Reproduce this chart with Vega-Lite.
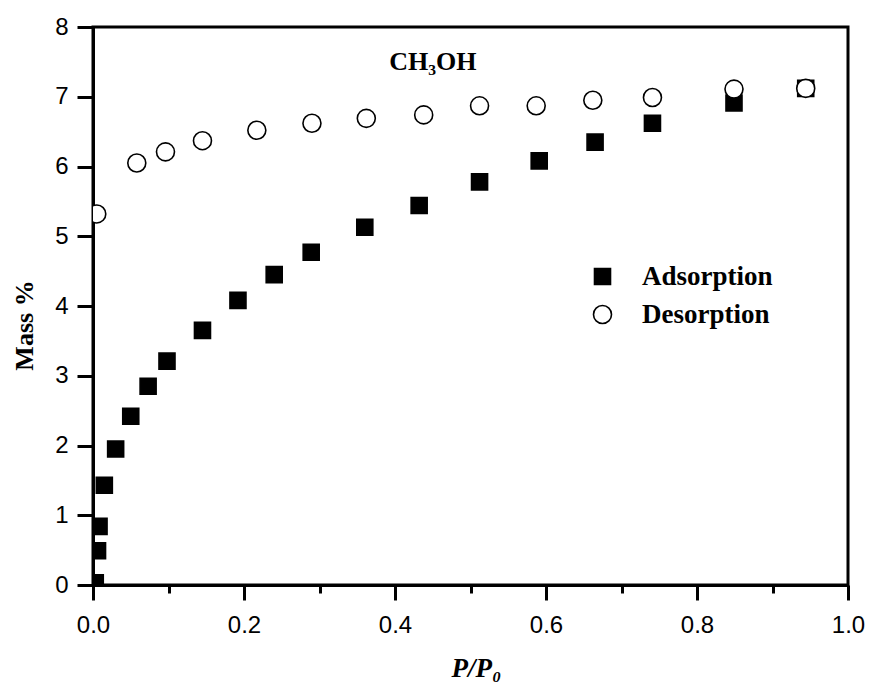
{
  "$schema": "https://vega.github.io/schema/vega-lite/v6.json",
  "autosize": {"type": "none"},
  "padding": {"left": 93, "top": 27, "right": 25, "bottom": 105},
  "width": 755,
  "height": 558,
  "background": "white",
  "config": {
    "view": {"stroke": "black", "strokeWidth": 3},
    "axis": {"grid": false, "domainColor": "black", "domainWidth": 3, "tickColor": "black", "tickWidth": 3, "labelColor": "black", "labelFont": "Liberation Sans", "labelFontSize": 24, "titleColor": "black", "zindex": 1}
  },
  "datasets": {
    "points": [
      {"series": "Adsorption", "p": 0.003, "mass": 0.03},
      {"series": "Adsorption", "p": 0.006, "mass": 0.49},
      {"series": "Adsorption", "p": 0.008, "mass": 0.84},
      {"series": "Adsorption", "p": 0.015, "mass": 1.43},
      {"series": "Adsorption", "p": 0.030, "mass": 1.95},
      {"series": "Adsorption", "p": 0.050, "mass": 2.42},
      {"series": "Adsorption", "p": 0.073, "mass": 2.85},
      {"series": "Adsorption", "p": 0.098, "mass": 3.21},
      {"series": "Adsorption", "p": 0.145, "mass": 3.65},
      {"series": "Adsorption", "p": 0.192, "mass": 4.08},
      {"series": "Adsorption", "p": 0.240, "mass": 4.45},
      {"series": "Adsorption", "p": 0.289, "mass": 4.77},
      {"series": "Adsorption", "p": 0.360, "mass": 5.13},
      {"series": "Adsorption", "p": 0.432, "mass": 5.44},
      {"series": "Adsorption", "p": 0.512, "mass": 5.78},
      {"series": "Adsorption", "p": 0.591, "mass": 6.08},
      {"series": "Adsorption", "p": 0.665, "mass": 6.35},
      {"series": "Adsorption", "p": 0.741, "mass": 6.62},
      {"series": "Adsorption", "p": 0.849, "mass": 6.91},
      {"series": "Adsorption", "p": 0.944, "mass": 7.12},
      {"series": "Desorption", "p": 0.005, "mass": 5.32},
      {"series": "Desorption", "p": 0.058, "mass": 6.05},
      {"series": "Desorption", "p": 0.096, "mass": 6.21},
      {"series": "Desorption", "p": 0.145, "mass": 6.37},
      {"series": "Desorption", "p": 0.217, "mass": 6.52},
      {"series": "Desorption", "p": 0.290, "mass": 6.62},
      {"series": "Desorption", "p": 0.362, "mass": 6.69},
      {"series": "Desorption", "p": 0.438, "mass": 6.74},
      {"series": "Desorption", "p": 0.512, "mass": 6.87},
      {"series": "Desorption", "p": 0.587, "mass": 6.87},
      {"series": "Desorption", "p": 0.662, "mass": 6.95},
      {"series": "Desorption", "p": 0.741, "mass": 6.99},
      {"series": "Desorption", "p": 0.849, "mass": 7.11},
      {"series": "Desorption", "p": 0.944, "mass": 7.12}
    ],
    "labels": [
      {"label": "CH₃OH", "p": 0.45, "mass": 7.38}
    ]
  },
  "layer": [
    {
      "data": {"name": "points"},
      "mark": {"type": "point", "filled": true, "clip": true, "stroke": "black", "strokeWidth": 1.6, "opacity": 1},
      "encoding": {
        "x": {
          "field": "p", "type": "quantitative",
          "scale": {"domain": [0, 1], "nice": false, "zero": false},
          "axis": {
            "values": [0, 0.1, 0.2, 0.3, 0.4, 0.5, 0.6, 0.7, 0.8, 0.9, 1.0],
            "labelExpr": "abs(datum.value*5 - round(datum.value*5)) < 0.001 ? format(datum.value, '.1f') : ''",
            "tickSize": {"condition": {"test": "abs(datum.value*5 - round(datum.value*5)) > 0.001", "value": 8}, "value": 15},
            "labelPadding": 13,
            "labelFlush": false,
            "labelOverlap": false,
            "title": "P/P₀",
            "titleFont": "Liberation Serif",
            "titleFontStyle": "italic",
            "titleFontWeight": "bold",
            "titleFontSize": 27,
            "titleX": 383,
            "titleY": 91,
            "titleBaseline": "alphabetic",
            "titleAlign": "center"
          }
        },
        "y": {
          "field": "mass", "type": "quantitative",
          "scale": {"domain": [0, 8], "nice": false, "zero": false},
          "axis": {
            "values": [0, 0.5, 1, 1.5, 2, 2.5, 3, 3.5, 4, 4.5, 5, 5.5, 6, 6.5, 7, 7.5, 8],
            "labelExpr": "abs(datum.value - round(datum.value)) < 0.001 ? format(datum.value, 'd') : ''",
            "tickSize": {"condition": {"test": "abs(datum.value - round(datum.value)) > 0.001", "value": 8}, "value": 16},
            "labelPadding": 9,
            "labelFlush": false,
            "labelOverlap": false,
            "title": "Mass %",
            "titleFont": "Liberation Serif",
            "titleFontWeight": "bold",
            "titleFontSize": 26,
            "titleX": -61,
            "titleY": 298,
            "titleAngle": -90,
            "titleAlign": "center",
            "titleBaseline": "alphabetic"
          }
        },
        "shape": {
          "field": "series", "type": "nominal",
          "scale": {"domain": ["Adsorption", "Desorption"], "range": ["square", "circle"]},
          "legend": {
            "title": null,
            "orient": "none",
            "legendX": 496,
            "legendY": 236,
            "padding": 0,
            "labelFont": "Liberation Serif",
            "labelFontWeight": "bold",
            "labelFontSize": 27,
            "labelColor": "black",
            "labelOffset": 26,
            "rowPadding": 10,
            "symbolSize": 289,
            "symbolStrokeColor": "black",
            "symbolStrokeWidth": 1.6
          }
        },
        "fill": {
          "field": "series", "type": "nominal",
          "scale": {"domain": ["Adsorption", "Desorption"], "range": ["black", "white"]}
        },
        "size": {
          "field": "series", "type": "nominal",
          "scale": {"domain": ["Adsorption", "Desorption"], "range": [256, 324]}
        }
      }
    },
    {
      "data": {"name": "labels"},
      "mark": {"type": "text", "font": "Liberation Serif", "fontWeight": "bold", "fontSize": 26, "color": "black", "align": "center", "baseline": "alphabetic"},
      "encoding": {
        "x": {"field": "p", "type": "quantitative"},
        "y": {"field": "mass", "type": "quantitative"},
        "text": {"field": "label"}
      }
    }
  ]
}
